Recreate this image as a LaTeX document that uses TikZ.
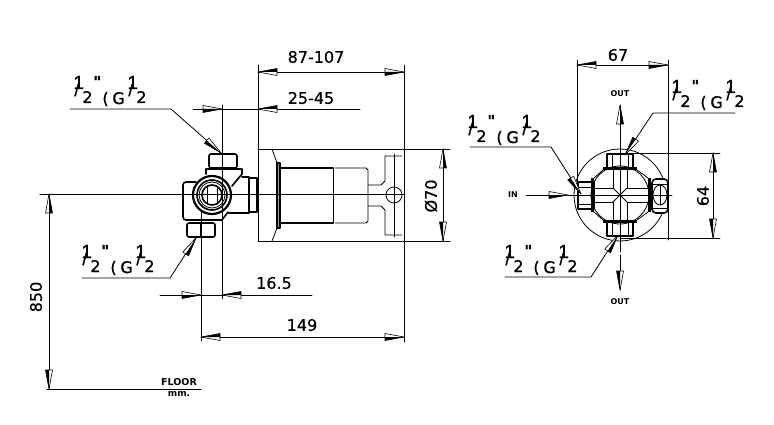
\documentclass[tikz,border=0pt]{standalone}
\usepackage{fontspec}
\setmainfont{DejaVu Sans}
\newfontfamily\heavyf[FakeBold=0.6]{DejaVu Sans}
\newfontfamily\fracf[FakeBold=1]{DejaVu Sans}
\newfontfamily\onef[FakeBold=1]{Liberation Sans}
\newcommand{\fs}[1]{\fontsize{#1}{#1}\selectfont}
\newcommand{\atx}[2]{\rlap{\kern#1pt #2}}
\newcommand{\halfg}{\atx{0}{\raisebox{14pt}{\onef\fs{19}1}}\atx{1}{\raisebox{7pt}{\onef\fs{17}/}}\atx{9}{\fs{16}2}}
\newcommand{\gsize}{\mbox{\fracf\halfg\atx{20}{\raisebox{16pt}{\fs{15}\bfseries"}}\atx{29}{\raisebox{-1pt}{\fs{16}(}}\atx{39}{\raisebox{-1pt}{\fs{16}G}}\atx{54}{\halfg}\phantom{\rule{76pt}{1pt}}}}
\tikzset{
  thin line/.style={line width=0.8pt},
  heavy/.style={line width=1.6pt},
  dim/.style={font=\heavyf\fs{16}},
  tiny/.style={font=\fs{8}\bfseries, inner sep=0pt},
  ah/.pic={
    \draw[line width=0.6pt,fill=white] (0,0) -- (-19,-3.5) -- (-19,3.5) -- cycle;
    \fill[black] (0,0) -- (-19,0) -- (-19,3.5) -- cycle;
  }
}
\begin{document}
\begin{tikzpicture}[x=1pt,y=-1pt,line cap=round,line join=round,thin line]
\useasboundingbox (0,0) rectangle (774,425);
\fill[white] (0,0) rectangle (774,425);

% ---- side view: extension and dimension lines
\draw (258,65) -- (258,149);
\draw (404,65) -- (404,342);
\draw (222,105) -- (222,299);
\draw (201,182) -- (201,341);
\draw (40,194) -- (404,194);
\draw (258,149) -- (450,149);
\draw (258,241) -- (450,241);
\draw (47,389) -- (201,389);
\draw (258,72) -- (404,72);
\draw (193,109) -- (360,109);
\draw (160,295) -- (312,295);
\draw (201,337) -- (404,337);
\draw (443,149) -- (443,241);
\draw (49,194) -- (49,389);
\pic[rotate=180] at (258,72) {ah};
\pic at (404,72) {ah};
\pic at (222,109) {ah};
\pic[rotate=180] at (258,109) {ah};
\pic at (201,295) {ah};
\pic[rotate=180] at (222,295) {ah};
\pic[rotate=180] at (201,337) {ah};
\pic at (404,337) {ah};
\pic[rotate=90] at (443,149) {ah};
\pic[rotate=-90] at (443,241) {ah};
\pic[rotate=90] at (49,194) {ah};
\pic[rotate=-90] at (49,389) {ah};

% leaders
\draw (70,109) -- (171,109) -- (221,153);
\pic[rotate=-41] at (221,153) {ah};
\draw (82,278) -- (170,278) -- (196,238);
\pic[rotate=57] at (196,238) {ah};

% ---- valve body
\draw[heavy,rounded corners=2pt] (209,154) rectangle (237,168);
\draw[heavy] (206,174) -- (206,169) -- (242,169) -- (242,174);
\draw[heavy,rounded corners=2pt] (187,223) rectangle (215,237);
\draw[heavy] (201,223) -- (201,237);
\draw[heavy,rounded corners=3pt] (196,182) -- (183,182) -- (183,220) -- (222,220);
\draw[heavy] (222,220) -- (228,212);
\draw[heavy] (242,174) -- (232,186);
\draw[heavy] (242,177) -- (249,177) -- (249,213) -- (228,213);
\draw[heavy] (249,178) -- (257,178) -- (257,212) -- (249,212);
\fill[white] (212,195) circle (20);
\draw[line width=2.2pt] (212,195) circle (19);
\draw[heavy] (212,195) circle (15);
\draw[thin line] (212,195) circle (13);
\draw[heavy] (212,195) circle (10);
\draw (207,186) -- (207,204);
\draw (217,186) -- (217,204);
\draw (40,194.5) -- (258,194.5);
\draw (222,174) -- (222,230);

% ---- housing and handle
\draw (258,149) -- (258,241);
\draw (258,149) -- (402,149);
\draw (258,241) -- (402,241);
\draw (272,149) -- (277,163);
\draw (272,241) -- (277,228);
\draw[heavy,fill=black!35] (277,163) rectangle (280,228);
\draw[heavy] (280,168) -- (333,168);
\draw[heavy] (280,223) -- (333,223);
\draw[line width=1.2pt] (333.5,168) -- (333.5,223);
\draw (335,168) -- (366,168) -- (368,170) -- (368,221) -- (366,223) -- (335,223);
\draw (368,185) -- (381,185) -- (385,181) -- (385,156) -- (402,156);
\draw (368,206) -- (381,206) -- (385,210) -- (385,235) -- (402,235);
\draw (394,154) -- (394,237);
\draw (394,195) circle (8);
\draw (258,194.5) -- (405,194.5);

% ---- front view
\draw (577,60) -- (577,196);
\draw (668,60) -- (668,240);
\draw (577,65) -- (668,65);
\pic[rotate=180] at (577,65) {ah};
\pic at (668,65) {ah};
\draw (620,153) -- (720,153);
\draw (620,238) -- (720,238);
\draw (713,153) -- (713,238);
\pic[rotate=90] at (713,153) {ah};
\pic[rotate=-90] at (713,238) {ah};
\draw (620,195) circle (46);
\draw (570,195) -- (672,195);
\draw (620,140) -- (620,252);
% fittings
\draw[heavy] (607,154) rectangle (633,169);
\draw (612,154) -- (612,169) (628,154) -- (628,169);
\draw[heavy] (607,221) rectangle (633,236);
\draw (612,221) -- (612,236) (628,221) -- (628,236);
\draw[heavy] (578,182) rectangle (594,209);
\draw (578,187) -- (594,187) (578,204) -- (594,204);
\fill (603,167) rectangle (637,170);
\fill (603,220) rectangle (637,223);
\fill (591,178) rectangle (594,212);
\fill (648,178) rectangle (651,212);
\draw (620,195) circle (29);
\draw (594,178) -- (603,170) (637,170) -- (648,178) (594,212) -- (603,220) (637,220) -- (648,212);
\draw (613,170) -- (613,188) -- (594,188) (627,170) -- (627,188) -- (648,188);
\draw (613,220) -- (613,202) -- (594,202) (627,220) -- (627,202) -- (648,202);
\draw (613,188) -- (627,202) (627,188) -- (613,202);
\draw[heavy,rounded corners=4pt,fill=white] (652,179) rectangle (668,213);
\draw (652,184) -- (668,184) (652,208) -- (668,208);
\draw (660,195) ellipse (7 and 10);
\draw (654,195) -- (670,195);
\draw (660,185) -- (660,205);

% flow arrows
\draw (620,105) -- (620,140);
\pic[rotate=90] at (620,105) {ah};
\draw (620,255) -- (620,290);
\pic[rotate=-90] at (620,290) {ah};
\draw (526,195) -- (570,195);
\pic at (568,195) {ah};

% leaders
\draw (735,113) -- (653,113) -- (625,155);
\pic[rotate=-124] at (625,155) {ah};
\draw (470,147) -- (551,147) -- (581,194);
\pic[rotate=-57] at (581,194) {ah};
\draw (505,277) -- (591,277) -- (618,235);
\pic[rotate=57] at (618,235) {ah};

% ---- labels
\node[dim] (d1) at (316,57) {87-107};
\node[dim] (d2) at (311,98) {25-45};
\node[dim] (d3) at (274,283) {16.5};
\node[dim] (d4) at (302,325) {149};
\node[dim,rotate=90] (d5) at (431,196) {Ø70};
\node[dim,rotate=90] (d6) at (36,297) {850};
\node[dim] (d7) at (618,55) {67};
\node[dim,rotate=90] (d8) at (703,196) {64};
\node[inner sep=0pt,anchor=base west] (g1) at (73,103) {\gsize};
\node[inner sep=0pt,anchor=base west] (g2) at (81,272) {\gsize};
\node[inner sep=0pt,anchor=base west] (g3) at (671,107) {\gsize};
\node[inner sep=0pt,anchor=base west] (g4) at (467,142) {\gsize};
\node[inner sep=0pt,anchor=base west] (g5) at (504,272) {\gsize};
\node[tiny] (t1) at (620,94) {OUT};
\node[tiny] (t2) at (620,302) {OUT};
\node[tiny] (t3) at (513,195) {IN};
\node[font=\fs{9.5}\bfseries,inner sep=0pt] (t4) at (179,382) {FLOOR};
\node[font=\fs{9}\bfseries,inner sep=0pt] (t5) at (179,394) {mm.};
\end{tikzpicture}
\end{document}
